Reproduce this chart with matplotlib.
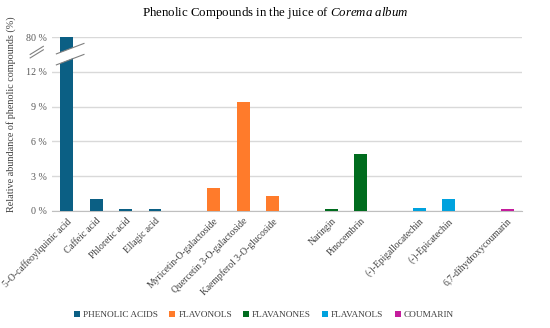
import numpy as np
import matplotlib
matplotlib.use("Agg")
import matplotlib.pyplot as plt
from matplotlib.patches import Patch, Polygon
from matplotlib.transforms import blended_transform_factory

plt.rcParams['font.family'] = ['Liberation Serif', 'DejaVu Serif']
plt.rcParams['mathtext.fontset'] = 'custom'
plt.rcParams['mathtext.it'] = 'Liberation Serif:italic'
plt.rcParams['mathtext.rm'] = 'Liberation Serif'

# data (%)
groups = ["PHENOLIC ACIDS", "FLAVONOLS", "FLAVANONES", "FLAVANOLS", "COUMARIN"]
colors = ["#0b5f84", "#ff7b2b", "#006c1e", "#00a2de", "#c41c9c"]
names = [
    ["5-O-caffeoylquinic acid", "Caffeic acid", "Phloretic acid", "Ellagic acid"],
    ["Myricetin-O-galactoside", "Quercetin 3-O-galactoside", "Kaempferol 3-O-glucoside"],
    ["Naringin", "Pinocembrin"],
    ["(-)-Epigallocatechin", "(-)-Epicatechin"],
    ["6,7-dihydroxycoumarin"],
]
values = [
    [79.5, 1.03, 0.15, 0.15],
    [1.97, 9.42, 1.25],
    [0.17, 4.95],
    [0.28, 1.05],
    [0.15],
]

# broken axis: 0-12 linear, then 12-80 squeezed into 3 units
def fwd(v):
    v = np.asarray(v, dtype=float)
    return np.where(v <= 12, v, 12 + (v - 12) * 3.0 / 68.0)

def inv(s):
    s = np.asarray(s, dtype=float)
    return np.where(s <= 12, s, 12 + (s - 12) * 68.0 / 3.0)

fig = plt.figure(figsize=(5.5, 3.28), dpi=100)
ax = fig.add_axes([0.095, 0.357, 0.854, 0.53])
ax.set_yscale('function', functions=(fwd, inv))

pos = 0
xticks, xlabels = [], []
for g, c, nm, vals in zip(groups, colors, names, values):
    xs = np.arange(pos, pos + len(vals))
    ax.bar(xs, vals, width=0.44, color=c, zorder=3)
    xticks += list(xs)
    xlabels += nm
    pos += len(vals) + 1

ax.set_xlim(-0.5, pos - 1.5)
ax.set_ylim(0, 80)
yt = [0, 3, 6, 9, 12, 80]
ax.set_yticks(yt)
ax.set_yticklabels([f"{t} %" for t in yt], fontsize=7.2, color="#595959")
ax.yaxis.set_minor_locator(matplotlib.ticker.NullLocator())
ax.set_xticks(xticks)
ax.set_xticklabels(xlabels, rotation=45, ha='right', rotation_mode='anchor',
                   fontsize=6.9, color="#404040")
ax.tick_params(length=0, pad=4)
ax.grid(axis='y', color="#d9d9d9", lw=1, zorder=0)
for s in ["top", "right", "left"]:
    ax.spines[s].set_visible(False)
ax.spines["bottom"].set_color("#bfbfbf")

ax.set_ylabel("Relative abundance of phenolic compounds (%)", fontsize=7.3,
              color="#404040")
ax.yaxis.set_label_coords(-0.078, 0.555)
fig.suptitle("Phenolic Compounds in the juice of $\\it{Corema\\ album}$",
             fontsize=9.3, x=0.5, y=0.985, va='top')

# break marks
tr = blended_transform_factory(ax.transData, ax.transAxes)
band = Polygon([(-0.36, 13.55 / 15), (0.58, 14.45 / 15), (0.58, 13.55 / 15), (-0.36, 12.6 / 15)],
               closed=True, facecolor="white", edgecolor="none", transform=tr, zorder=4)
ax.add_patch(band)
for y0 in (13.55, 12.6):
    ax.plot([-0.36, 0.58], [y0 / 15, (y0 + 0.9) / 15], color="#808080", lw=0.8,
            transform=tr, zorder=5)
for dy in (0.0, 0.3):
    ax.plot([-0.047, -0.019], [(13.2 + dy) / 15, (13.9 + dy) / 15], color="#808080",
            lw=0.8, transform=ax.transAxes, clip_on=False)

handles = [Patch(facecolor=c, label=g) for g, c in zip(groups, colors)]
fig.legend(handles=handles, loc='center', bbox_to_anchor=(0.48, 0.04), ncol=5,
           frameon=False, fontsize=6.7, handlelength=0.65, handleheight=0.65,
           handletextpad=0.3, columnspacing=1.2, labelcolor="#404040")

fig.savefig("out.png", dpi=100)
